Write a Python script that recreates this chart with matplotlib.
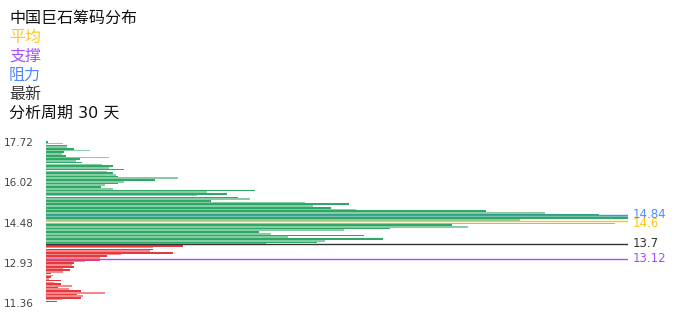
import numpy as np
import matplotlib
matplotlib.use("Agg")
import matplotlib.pyplot as plt
import matplotlib.transforms as mtransforms

plt.rcParams['font.family'] = ['DejaVu Sans', 'Noto Sans CJK SC']

# chip volume per price bin, top (17.72) to bottom (11.36)
chips = [5, 44, 56, 54, 73, 116, 46, 41, 52, 165,
         88, 78, 94, 146, 176, 164, 204, 159, 174, 182,
         187, 346, 284, 204, 189, 155, 144, 176, 547, 422,
         474, 394, 502, 534, 431, 678, 792, 698, 746, 809,
         1151, 1304, 1444, 1521, 1521, 1238, 1412, 1486, 1061, 1104,
         899, 780, 556, 588, 832, 633, 881, 730, 709,
         574, 357, 279, 280, 271, 331, 195, 159, 141, 142,
         101, 72, 68, 73, 44, 62, 44, 14, 19, 12,
         9, 40, 21, 39, 67, 32, 60, 91, 155, 81,
         97, 92, 41, 30, 1]
price_high = 17.72
price_low = 11.36
tick_labels = ["17.72", "16.02", "14.48", "12.93", "11.36"]

avg_price = 14.6
support = 13.12
resistance = 14.84
latest = 13.7
period_days = 30

prices = np.linspace(price_high, price_low, len(chips))
step = (price_high - price_low) / (len(chips) - 1)

fig = plt.figure(figsize=(6.96, 3.2), dpi=100)
ax = fig.add_axes([46/696, 16/320, 582/696, 163/320])

colors = []
for i, p in enumerate(prices):
    if p < latest:
        colors.append('#e8383d' if i % 2 == 0 else '#f08a8c')
    else:
        colors.append('#2fa865' if i % 2 == 0 else '#86cda5')
ax.barh(prices, chips, height=step*0.95, color=colors, linewidth=0)

ax.set_xlim(0, max(chips))
ax.set_ylim(price_low - step/2, price_high + step/2)
ax.set_yticks(np.linspace(price_high, price_low, len(tick_labels)))
ax.set_yticklabels(tick_labels, fontsize=7.5, color='#444444')
ax.tick_params(axis='y', length=0, pad=9)
ax.set_xticks([])
for s in ax.spines.values():
    s.set_visible(False)

trans = mtransforms.blended_transform_factory(ax.transAxes, ax.transData)
lines = [(resistance, '#4d88ff', 0.0), (avg_price, '#ffc61a', -0.08),
         (latest, '#333333', 0.0), (support, '#a64dff', 0.0)]
for val, col, nudge in lines:
    ax.axhline(val, color=col, linewidth=1)
    ax.text(1.008, val + nudge, f"{val:g}", transform=trans, color=col,
            fontsize=8.5, va='center', ha='left')

# header
heads = [("中国巨石筹码分布", '#111111'), ("平均", '#ffc61a'),
         ("支撑", '#a64dff'), ("阻力", '#4d88ff'), ("最新", '#333333'),
         (f"分析周期 {period_days} 天", '#111111')]
for k, (txt, col) in enumerate(heads):
    fig.text(9/696, 1 - (18 + 19*k)/320, txt, color=col, fontsize=11.5,
             va='center', ha='left')

fig.savefig('out.png', dpi=100)
